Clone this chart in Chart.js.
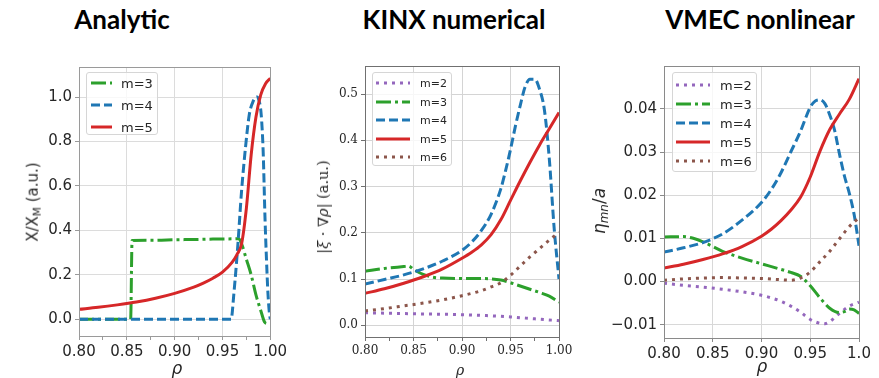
<!DOCTYPE html>
<html>
<head>
<meta charset="utf-8">
<script src="https://cdn.jsdelivr.net/npm/chart.js@4.4.1/dist/chart.umd.min.js"></script>
<style>
  body { margin: 0; width: 879px; height: 378px; background: #fff; position: relative; overflow: hidden; font-family: 'DejaVu Sans', sans-serif; color: #262626; }
  .panel { position: absolute; top: 40px; height: 338px; }
  .title { position: absolute; top: 3px; transform: translateX(-50%); font: bold 26px Lato, 'Liberation Sans', sans-serif; color: #000; white-space: nowrap; }
  .ytitle { position: absolute; transform: translate(-50%, -50%) rotate(-90deg); white-space: nowrap; }
  .xtitle { position: absolute; transform: translate(-50%, -50%); white-space: nowrap; font-style: italic; }
  .legend { position: absolute; background: rgba(255,255,255,0.8); border: 1px solid #d6d6d6; border-radius: 3px; box-sizing: border-box; }
  .legend .row { position: absolute; left: 0; right: 0; height: 0; }
  .legend svg { position: absolute; top: -3px; }
  .legend span { position: absolute; transform: translateY(-50%); white-space: nowrap; color: #262626; }
  sub { font-size: 70%; vertical-align: -0.25em; }
</style>
</head>
<body>
<div class="title" style="left:122px">Analytic</div>
<div class="title" style="left:454px">KINX numerical</div>
<div class="title" style="left:760px">VMEC nonlinear</div>

<div class="panel" style="left:0px;width:290px"><canvas id="chartA" width="290" height="338"></canvas></div>
<div class="panel" style="left:290px;width:290px"><canvas id="chartK" width="290" height="338"></canvas></div>
<div class="panel" style="left:580px;width:299px"><canvas id="chartV" width="299" height="338"></canvas></div>

<div class="ytitle" style="left:33px;top:202px;font-size:15px">X/X<sub>M</sub> (a.u.)</div>
<div class="ytitle" style="left:323px;top:207px;font:14.5px 'DejaVu Serif',serif">|<i>ξ</i> · ∇<i>ρ</i>| (a.u.)</div>
<div class="ytitle" style="left:600px;top:211px;font-size:17px"><i>η<sub>mn</sub></i>/<i>a</i></div>
<div class="xtitle" style="left:177px;top:368px;font-size:17px">ρ</div>
<div class="xtitle" style="left:460px;top:370px;font:italic 14px 'DejaVu Serif',serif">ρ</div>
<div class="xtitle" style="left:762px;top:366px;font-size:17px">ρ</div>

<div class="legend" id="legendA" style="left:86px;top:72px;width:72px;height:63px"></div>
<div class="legend" id="legendK" style="left:372px;top:72px;width:80px;height:94px"></div>
<div class="legend" id="legendV" style="left:672px;top:72px;width:85px;height:100px"></div>

<script>
// ticks
const xMajor = [0.80, 0.85, 0.90, 0.95, 1.00];
const xMinor = [0.825, 0.875, 0.925, 0.975];
const xLabels = ['0.80', '0.85', '0.90', '0.95', '1.00'];
const xLabelsV = ['0.80', '0.85', '0.90', '0.95', '1.0'];

const yTicksA = [0.0, 0.2, 0.4, 0.6, 0.8, 1.0];
const yLabelsA = ['0.0', '0.2', '0.4', '0.6', '0.8', '1.0'];
const yTicksK = [0.0, 0.1, 0.2, 0.3, 0.4, 0.5];
const yLabelsK = ['0.0', '0.1', '0.2', '0.3', '0.4', '0.5'];
const yTicksV = [-0.01, 0.0, 0.01, 0.02, 0.03, 0.04];
const yLabelsV = ['\u22120.01', '0.00', '0.01', '0.02', '0.03', '0.04'];

// Analytic
const rhoA3 = [0.80, 0.854, 0.8555, 0.88, 0.90, 0.92, 0.94, 0.96, 0.967, 0.970, 0.975, 0.980, 0.985, 0.990, 0.994, 0.997];
const valA3 = [0, 0, 0.355, 0.356, 0.358, 0.359, 0.361, 0.362, 0.363, 0.34, 0.27, 0.20, 0.11, 0.04, -0.012, -0.02];
const rhoA4 = [0.80, 0.959, 0.962, 0.966, 0.970, 0.974, 0.978, 0.982, 0.986, 0.9885, 0.9905, 0.9925, 0.9945, 0.996, 0.9975, 0.999, 1.0];
const valA4 = [0, 0, 0.12, 0.33, 0.58, 0.77, 0.92, 0.98, 1.0, 0.98, 0.92, 0.76, 0.45, 0.27, 0.12, 0.03, 0.0];
const rhoA5 = [0.80, 0.82, 0.84, 0.86, 0.88, 0.90, 0.92, 0.93, 0.94, 0.95, 0.96, 0.965, 0.97, 0.975, 0.98, 0.985, 0.99, 0.995, 1.0];
const valA5 = [0.045, 0.054, 0.065, 0.078, 0.095, 0.117, 0.145, 0.163, 0.185, 0.212, 0.256, 0.29, 0.34, 0.50, 0.74, 0.91, 1.01, 1.06, 1.084];

// KINX
const rhoK2 = [0.80, 0.825, 0.85, 0.875, 0.90, 0.925, 0.95, 0.975, 1.0];
const valK2 = [0.027, 0.026, 0.025, 0.024, 0.023, 0.021, 0.018, 0.014, 0.010];
const rhoK3 = [0.80, 0.82, 0.84, 0.845, 0.85, 0.86, 0.87, 0.88, 0.90, 0.92, 0.94, 0.95, 0.96, 0.97, 0.98, 0.99, 1.0];
const valK3 = [0.117, 0.123, 0.127, 0.128, 0.121, 0.110, 0.104, 0.102, 0.101, 0.101, 0.098, 0.092, 0.085, 0.078, 0.071, 0.063, 0.050];
const rhoK4 = [0.80, 0.82, 0.84, 0.86, 0.88, 0.90, 0.91, 0.92, 0.93, 0.94, 0.945, 0.95, 0.955, 0.96, 0.965, 0.97, 0.975, 0.98, 0.985, 0.99, 0.995, 1.0];
const valK4 = [0.089, 0.099, 0.109, 0.122, 0.139, 0.162, 0.180, 0.205, 0.24, 0.295, 0.335, 0.38, 0.43, 0.475, 0.515, 0.532, 0.532, 0.51, 0.465, 0.36, 0.21, 0.10];
const rhoK5 = [0.80, 0.82, 0.84, 0.86, 0.88, 0.90, 0.91, 0.92, 0.93, 0.94, 0.95, 0.96, 0.97, 0.98, 0.99, 1.0];
const valK5 = [0.069, 0.079, 0.091, 0.105, 0.122, 0.145, 0.158, 0.174, 0.196, 0.228, 0.270, 0.312, 0.352, 0.390, 0.425, 0.460];
const rhoK6 = [0.80, 0.82, 0.84, 0.86, 0.88, 0.90, 0.92, 0.93, 0.94, 0.95, 0.96, 0.97, 0.98, 0.99, 1.0];
const valK6 = [0.031, 0.036, 0.042, 0.048, 0.055, 0.064, 0.075, 0.083, 0.092, 0.108, 0.128, 0.148, 0.166, 0.184, 0.201];

// VMEC
const rhoV2 = [0.80, 0.82, 0.84, 0.86, 0.88, 0.90, 0.91, 0.92, 0.93, 0.94, 0.95, 0.96, 0.965, 0.97, 0.98, 0.99, 1.0];
const valV2 = [-0.0004, -0.0009, -0.0013, -0.0018, -0.0024, -0.0032, -0.0038, -0.0046, -0.0057, -0.0071, -0.0088, -0.0097, -0.0098, -0.0093, -0.0074, -0.0057, -0.0048];
const rhoV3 = [0.80, 0.82, 0.83, 0.84, 0.86, 0.88, 0.90, 0.92, 0.93, 0.94, 0.95, 0.96, 0.97, 0.98, 0.985, 0.99, 0.995, 1.0];
const valV3 = [0.0103, 0.0104, 0.0100, 0.0092, 0.0070, 0.0054, 0.0041, 0.0028, 0.0021, 0.0012, -0.0010, -0.0038, -0.0062, -0.0072, -0.0070, -0.0064, -0.0066, -0.0074];
const rhoV4 = [0.80, 0.82, 0.84, 0.85, 0.86, 0.88, 0.90, 0.91, 0.92, 0.93, 0.94, 0.95, 0.955, 0.96, 0.965, 0.97, 0.975, 0.98, 0.985, 0.99, 0.995, 1.0];
const valV4 = [0.0068, 0.0078, 0.0090, 0.0099, 0.0110, 0.0142, 0.0183, 0.0213, 0.0252, 0.0300, 0.0348, 0.0404, 0.0418, 0.0421, 0.0412, 0.0386, 0.0350, 0.0295, 0.0245, 0.0205, 0.0155, 0.0083];
const rhoV5 = [0.80, 0.82, 0.84, 0.86, 0.88, 0.90, 0.91, 0.92, 0.93, 0.94, 0.95, 0.96, 0.97, 0.98, 0.99, 1.0];
const valV5 = [0.0031, 0.0040, 0.0051, 0.0064, 0.0081, 0.0105, 0.0121, 0.0141, 0.0165, 0.0195, 0.0242, 0.0302, 0.0352, 0.0388, 0.0422, 0.0470];
const rhoV6 = [0.80, 0.82, 0.84, 0.86, 0.88, 0.90, 0.92, 0.93, 0.94, 0.95, 0.96, 0.97, 0.98, 0.99, 1.0];
const valV6 = [0.0003, 0.0006, 0.0008, 0.0009, 0.0008, 0.0007, 0.0004, 0.0003, 0.0008, 0.0022, 0.0046, 0.0070, 0.0099, 0.0127, 0.0148];

const C2 = '#9467bd', C3 = '#2ca02c', C4 = '#1f77b4', C5 = '#d62728', C6 = '#8c564b';
const DOT = [3, 5], DASHDOT = [15, 4, 3, 4], DASH = [9, 4], SOLID = [];

function series(label, rho, vals, color, dash) {
  return {
    label: label,
    data: rho.map((r, i) => ({ x: r, y: vals[i] })),
    borderColor: color,
    borderDash: dash,
    borderWidth: 3,
    borderCapStyle: 'butt',
    pointRadius: 0,
    cubicInterpolationMode: 'monotone',
    fill: false,
    clip: 0
  };
}

// spines on top and right (matplotlib box)
const framePlugin = {
  id: 'frame',
  afterDatasetsDraw(chart, args, opts) {
    const a = chart.chartArea;
    const al = p => Math.round(p - 0.5) + 0.5;
    const ctx = chart.ctx;
    ctx.save();
    ctx.strokeStyle = opts.color;
    ctx.lineWidth = 1;
    ctx.strokeRect(al(a.left), al(a.top), al(a.right) - al(a.left), al(a.bottom) - al(a.top));
    ctx.restore();
  }
};

function labelFor(v, ticks, labels) {
  const i = ticks.findIndex(t => Math.abs(t - v) < 1e-9);
  return i < 0 ? '' : labels[i];
}

function makePanel(id, cfg) {
  const n = cfg.datasets.length;
  const xTicks = cfg.minor ? xMajor.concat(xMinor).sort((a, b) => a - b) : xMajor;
  return new Chart(document.getElementById(id), {
    type: 'line',
    data: { datasets: cfg.datasets.map((d, i) => Object.assign(d, { order: n - i })) },
    options: {
      responsive: false,
      animation: false,
      events: [],
      layout: { padding: cfg.padding },
      plugins: {
        legend: { display: false },
        tooltip: { enabled: false },
        frame: { color: cfg.spine }
      },
      scales: {
        x: {
          type: 'linear', min: 0.8, max: 1.0,
          afterBuildTicks: s => { s.ticks = xTicks.map(v => ({ value: v })); },
          afterFit: s => { s.height = 30; },
          ticks: {
            autoSkip: false, maxRotation: 0, padding: 3, color: '#262626', font: cfg.font,
            callback: v => labelFor(v, xMajor, cfg.xLabels)
          },
          grid: {
            color: c => (c.tick && labelFor(c.tick.value, xMajor, cfg.xLabels) !== '') ? cfg.grid : 'rgba(0,0,0,0)',
            tickColor: cfg.spine, tickLength: 4, lineWidth: 1
          },
          border: { color: cfg.spine, width: 1 }
        },
        y: {
          type: 'linear', min: cfg.yMin, max: cfg.yMax,
          afterBuildTicks: s => { s.ticks = cfg.yTicks.map(v => ({ value: v })); },
          afterFit: s => { s.width = cfg.yWidth; },
          ticks: {
            autoSkip: false, padding: 3, color: '#262626', font: cfg.font,
            callback: v => labelFor(v, cfg.yTicks, cfg.yLabels)
          },
          grid: { color: cfg.grid, tickColor: cfg.spine, tickLength: 4, lineWidth: 1 },
          border: { color: cfg.spine, width: 1 }
        }
      }
    },
    plugins: [framePlugin]
  });
}

function buildLegend(elId, chart, lg) {
  const box = document.getElementById(elId);
  chart.data.datasets.forEach((d, i) => {
    const row = document.createElement('div');
    row.className = 'row';
    row.style.top = (lg.first + i * lg.step) + 'px';
    const svgNS = 'http://www.w3.org/2000/svg';
    const svg = document.createElementNS(svgNS, 'svg');
    svg.setAttribute('width', lg.len);
    svg.setAttribute('height', 6);
    svg.style.left = lg.x0 + 'px';
    const line = document.createElementNS(svgNS, 'line');
    line.setAttribute('x1', 0); line.setAttribute('x2', lg.len);
    line.setAttribute('y1', 3); line.setAttribute('y2', 3);
    line.setAttribute('stroke', d.borderColor);
    line.setAttribute('stroke-width', 3);
    if (d.borderDash.length) line.setAttribute('stroke-dasharray', d.borderDash.join(' '));
    svg.appendChild(line);
    const txt = document.createElement('span');
    txt.textContent = d.label;
    txt.style.left = lg.tx + 'px';
    txt.style.fontSize = lg.size + 'px';
    row.appendChild(svg);
    row.appendChild(txt);
    box.appendChild(row);
  });
}

const sansFont = { family: "'DejaVu Sans', sans-serif", size: 15 };
const serifFont = { family: "'DejaVu Serif', serif", size: 12 };

const chartA = makePanel('chartA', {
  datasets: [
    series('m=3', rhoA3, valA3, C3, DASHDOT),
    series('m=4', rhoA4, valA4, C4, DASH),
    series('m=5', rhoA5, valA5, C5, SOLID)
  ],
  padding: { left: 0, right: 16, top: 27, bottom: 12 },
  yWidth: 79, yMin: -0.075, yMax: 1.135,
  yTicks: yTicksA, yLabels: yLabelsA, xLabels: xLabels,
  minor: true, font: sansFont, spine: '#9a9a9a', grid: '#dcdcdc'
});

const chartK = makePanel('chartK', {
  datasets: [
    series('m=2', rhoK2, valK2, C2, DOT),
    series('m=3', rhoK3, valK3, C3, DASHDOT),
    series('m=4', rhoK4, valK4, C4, DASH),
    series('m=5', rhoK5, valK5, C5, SOLID),
    series('m=6', rhoK6, valK6, C6, DOT)
  ],
  padding: { left: 0, right: 21, top: 26, bottom: 11 },
  yWidth: 75, yMin: -0.0253, yMax: 0.5606,
  yTicks: yTicksK, yLabels: yLabelsK, xLabels: xLabels,
  minor: true, font: serifFont, spine: '#707070', grid: '#d4d4d4'
});

const chartV = makePanel('chartV', {
  datasets: [
    series('m=2', rhoV2, valV2, C2, DOT),
    series('m=3', rhoV3, valV3, C3, DASHDOT),
    series('m=4', rhoV4, valV4, C4, DASH),
    series('m=5', rhoV5, valV5, C5, SOLID),
    series('m=6', rhoV6, valV6, C6, DOT)
  ],
  padding: { left: 0, right: 20, top: 26, bottom: 10 },
  yWidth: 84, yMin: -0.0131, yMax: 0.04993,
  yTicks: yTicksV, yLabels: yLabelsV, xLabels: xLabelsV,
  minor: false, font: sansFont, spine: '#8a8a8a', grid: '#d8d8d8'
});

buildLegend('legendA', chartA, { first: 10, step: 22, x0: 4, len: 21, tx: 34, size: 13 });
buildLegend('legendK', chartK, { first: 10, step: 18.5, x0: 3, len: 34, tx: 47, size: 11 });
buildLegend('legendV', chartV, { first: 12, step: 19.1, x0: 3, len: 34, tx: 47, size: 13 });
</script>
</body>
</html>
